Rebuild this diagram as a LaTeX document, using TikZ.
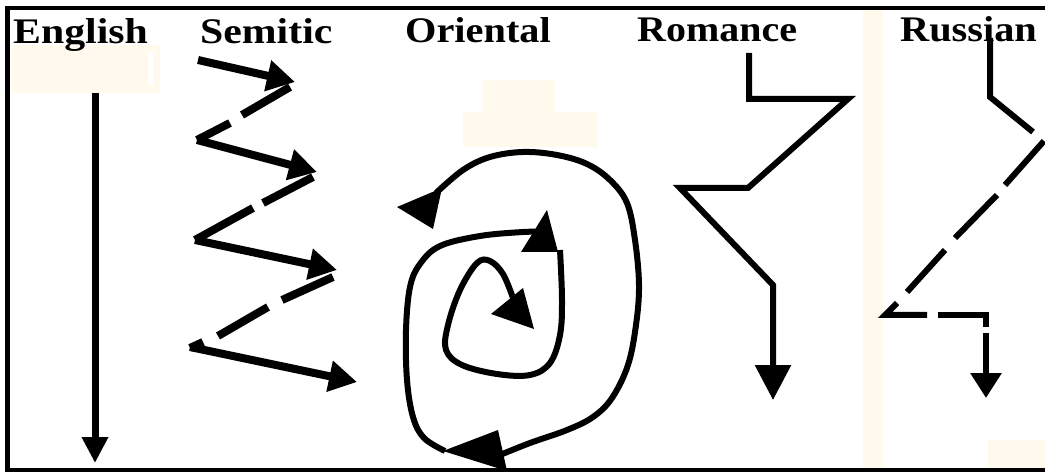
\documentclass[tikz,border=0pt]{standalone}
\usepackage{fontspec}
\setmainfont{Liberation Serif}
\usepackage{graphicx}
\usetikzlibrary{arrows.meta}
\definecolor{beige}{RGB}{255,249,238}
\begin{document}
\begin{tikzpicture}[x=1pt,y=-1pt,
  lbl/.style={inner sep=0pt, anchor=base west, font=\fontsize{36}{40}\selectfont\bfseries},
  pen/.style={line width=#1, line cap=butt, line join=miter, black},
  pen/.default=6pt,
  head/.style={fill=black, draw=none}]
\useasboundingbox (0,0) rectangle (1045,473);
\clip (0,0) rectangle (1045,473);
\fill[white] (0,0) rectangle (1045,473);
% faint background patches
\fill[beige] (12,45) rectangle (160,93);
\fill[white] (148,52) rectangle (153,85);
\fill[beige] (482,80) rectangle (555,113);
\fill[beige] (463,112) rectangle (598,147);
\fill[beige] (863,10) rectangle (883,470);
\fill[beige] (988,440) rectangle (1045,470);
% frame
\draw[line width=5pt] (7.5,6) -- (7.5,472);
\draw[line width=4pt] (5,8) -- (1045,8);
\draw[line width=4pt] (5,470) -- (1045,470);
% labels
\node[lbl] (english)  at (13,44)  {\scalebox{1.16}[1]{English}};
\node[lbl] (semitic)  at (200,44) {\scalebox{1.16}[1]{Semitic}};
\node[lbl] (oriental) at (405,43) {\scalebox{1.12}[1]{Oriental}};
\node[lbl] (romance)  at (637,42) {\scalebox{1.11}[1]{Romance}};
\node[lbl] (russian)  at (900,42) {\scalebox{1.12}[1]{Russian}};
% English
\draw[pen=7pt, -{Triangle[length=26pt,width=25pt]}] (95,93) -- (95,463);
% Semitic
\draw[pen=8pt, -{Triangle[length=28pt,width=30pt]}] (198,60) -- (295,82);
\draw[pen=8pt] (290,87) -- (242,115);
\draw[pen=8pt] (230,123) -- (197,140);
\draw[pen=8pt, -{Triangle[length=28pt,width=30pt]}] (197,140) -- (317,172);
\draw[pen=8pt] (313,177) -- (263,203);
\draw[pen=8pt] (253,208) -- (195,240);
\draw[pen=8pt, -{Triangle[length=28pt,width=30pt]}] (195,240) -- (337,270);
\draw[pen=8pt] (333,277) -- (282,300);
\draw[pen=8pt] (268,307) -- (218,336);
\draw[pen=8pt] (203,342) -- (190,348);
\draw[pen=8pt, -{Triangle[length=28pt,width=30pt]}] (190,347) -- (357,382);
% Oriental spiral
\draw[pen] plot[smooth, tension=0.6] coordinates {(436,193) (463,170) (490,157) (523,152) (557,155) (587,164) (610,180) (627,203) (635,240) (639,285) (636,325) (628,365) (612,398) (593,417) (567,430) (530,443) (500,455)};
\fill[head] (443,451) -- (498,430) -- (507,471) -- cycle;
\draw[pen] plot[smooth, tension=0.6] coordinates {(445,451) (424,438) (413,417) (407,380) (406,330) (410,287) (420,264) (440,246) (480,236) (523,232) (540,232)};
\fill[head] (547,210) -- (558,252) -- (521,252) -- cycle;
\draw[pen] plot[smooth, tension=0.6] coordinates {(560,250) (562,300) (560,335) (550,363) (530,375) (497,374) (462,365) (446,350) (448,325) (460,290) (477,263) (490,261) (503,274) (513,298)};
\fill[head] (523,288) -- (534,329) -- (491,314) -- cycle;
\fill[head] (397,207) -- (442,188) -- (433,229) -- cycle;
% Romance
\draw[pen, -{Triangle[length=35pt,width=35pt]}] (749,53) -- (749,99) -- (848,99) -- (748,188) -- (680,188) -- (773,285) -- (773,400);
% Russian
\draw[pen] (990,38) -- (990,97) -- (1033,132);
\draw[pen] (1044,141) -- (1005,185);
\draw[pen] (997,195) -- (955,238);
\draw[pen] (945,250) -- (907,292);
\draw[pen] (897,303) -- (885,315) -- (927,315);
\draw[pen] (938,315) -- (986,315) -- (986,327);
\draw[pen, -{Triangle[length=25pt,width=30pt]}] (986,333) -- (986,398);
\end{tikzpicture}
\end{document}
